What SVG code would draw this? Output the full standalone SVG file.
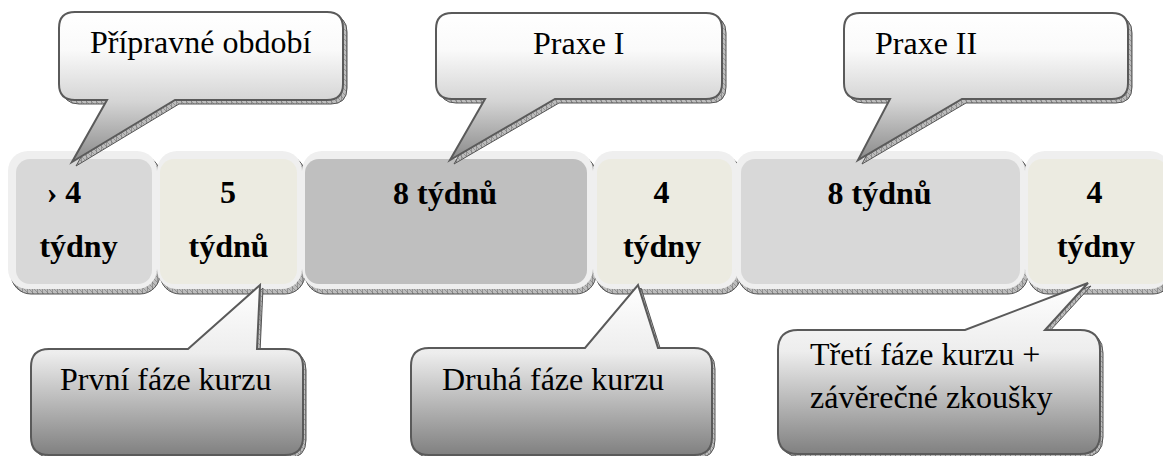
<svg xmlns="http://www.w3.org/2000/svg" width="1163" height="456" viewBox="0 0 1163 456">
<defs>
<style>
.frame{fill:#efefef;}
.shadow{fill:url(#hatch);stroke:#555;stroke-width:1;}
.grey{fill:#d8d8d8;}
.beige{fill:#ecebe1;}
.dark{fill:#bfbfbf;}
.bt{font-family:'Liberation Serif',serif;font-weight:bold;font-size:32px;fill:#000;text-anchor:middle;}
.ct{font-family:'Liberation Serif',serif;font-size:32px;fill:#000;}
.calloutTop{fill:url(#gTop);stroke:#5a5a5a;stroke-width:2;}
.calloutBot{fill:url(#gBot);stroke:#5a5a5a;stroke-width:2;}
</style>
<pattern id="hatch" width="5" height="5" patternUnits="userSpaceOnUse">
<rect width="5" height="5" fill="#bdbdbd"/>
<path d="M0,0 L5,5 M2.5,0 V5" stroke="#777" stroke-width="0.6"/>
</pattern>
<linearGradient id="gTop" x1="0" y1="0" x2="0" y2="1">
<stop offset="0" stop-color="#ffffff"/>
<stop offset="0.25" stop-color="#fafafa"/>
<stop offset="0.6" stop-color="#d4d4d4"/>
<stop offset="1" stop-color="#8a8a8a"/>
</linearGradient>
<linearGradient id="gBot" x1="0" y1="0" x2="0" y2="1">
<stop offset="0" stop-color="#ffffff"/>
<stop offset="0.4" stop-color="#ededed"/>
<stop offset="1" stop-color="#808080"/>
</linearGradient>
</defs>

<g id="box-shadows">
<rect class="shadow" x="11" y="155" width="149" height="139" rx="20"/>
<rect class="shadow" x="160" y="155" width="145" height="139" rx="20"/>
<rect class="shadow" x="305" y="155" width="291" height="139" rx="20"/>
<rect class="shadow" x="596" y="155" width="145" height="139" rx="20"/>
<rect class="shadow" x="738" y="155" width="290" height="139" rx="20"/>
<rect class="shadow" x="1028" y="155" width="145" height="139" rx="20"/>
</g>

<g id="box1">
<rect class="frame" x="8" y="151" width="149" height="138" rx="20"/>
<rect class="grey" x="16" y="159" width="136" height="125" rx="14"/>
<text class="bt" x="64" y="203" font-family="Liberation Serif, serif">› 4</text>
<text class="bt" x="78.5" y="257" font-family="Liberation Serif, serif">týdny</text>
</g>
<g id="box2">
<rect class="frame" x="157" y="151" width="145" height="138" rx="20"/>
<rect class="beige" x="160" y="159" width="137" height="125" rx="14"/>
<text class="bt" x="228" y="203">5</text>
<text class="bt" x="228.5" y="257">týdnů</text>
</g>
<g id="box3">
<rect class="frame" x="302" y="151" width="291" height="138" rx="20"/>
<rect class="dark" x="305" y="159" width="282" height="125" rx="14"/>
<text class="bt" x="445" y="204">8 týdnů</text>
</g>
<g id="box4">
<rect class="frame" x="593" y="151" width="145" height="138" rx="20"/>
<rect class="beige" x="597" y="159" width="135" height="125" rx="14"/>
<text class="bt" x="661.5" y="203">4</text>
<text class="bt" x="662" y="257">týdny</text>
</g>
<g id="box5">
<rect class="frame" x="735" y="151" width="290" height="138" rx="20"/>
<rect class="grey" x="741" y="159" width="279" height="125" rx="14"/>
<text class="bt" x="879.5" y="204">8 týdnů</text>
</g>
<g id="box6">
<rect class="frame" x="1025" y="151" width="145" height="138" rx="20"/>
<rect class="beige" x="1028" y="159" width="140" height="125" rx="14"/>
<text class="bt" x="1094.5" y="203">4</text>
<text class="bt" x="1096" y="257">týdny</text>
</g>

<g id="callout-shadows">
<path class="shadow" transform="translate(4,4)" d="M75,12 H327 Q343,12 343,28 V84 Q343,100 327,100 H175 L72,162 L107,100 H75 Q59,100 59,84 V28 Q59,12 75,12 Z"/>
<path class="shadow" transform="translate(4,4)" d="M452,13 H706 Q722,13 722,29 V83 Q722,99 706,99 H555 L450,160 L485,99 H452 Q436,99 436,83 V29 Q436,13 452,13 Z"/>
<path class="shadow" transform="translate(4,4)" d="M860,13 H1112 Q1128,13 1128,29 V83 Q1128,99 1112,99 H962 L858,160 L890,99 H860 Q844,99 844,83 V29 Q844,13 860,13 Z"/>
<path class="shadow" transform="translate(3,3)" d="M49,349 H188 L260,285 L257,349 H285 Q303,349 303,367 V437 Q303,455 285,455 H49 Q31,455 31,437 V367 Q31,349 49,349 Z"/>
<path class="shadow" transform="translate(3,3)" d="M429,348 H585 L638,285 L658,348 H694 Q712,348 712,366 V437 Q712,455 694,455 H429 Q411,455 411,437 V366 Q411,348 429,348 Z"/>
<path class="shadow" transform="translate(3,3)" d="M798,330 H965 L1088,283 L1045,330 H1080 Q1100,330 1100,350 V434 Q1100,454 1080,454 H798 Q778,454 778,434 V350 Q778,330 798,330 Z"/>
</g>

<g id="callout-pripravne">
<path class="calloutTop" d="M75,12 H327 Q343,12 343,28 V84 Q343,100 327,100 H175 L72,162 L107,100 H75 Q59,100 59,84 V28 Q59,12 75,12 Z"/>
<text class="ct" x="90" y="53">Přípravné období</text>
</g>
<g id="callout-praxe1">
<path class="calloutTop" d="M452,13 H706 Q722,13 722,29 V83 Q722,99 706,99 H555 L450,160 L485,99 H452 Q436,99 436,83 V29 Q436,13 452,13 Z"/>
<text class="ct" x="533" y="54">Praxe I</text>
</g>
<g id="callout-praxe2">
<path class="calloutTop" d="M860,13 H1112 Q1128,13 1128,29 V83 Q1128,99 1112,99 H962 L858,160 L890,99 H860 Q844,99 844,83 V29 Q844,13 860,13 Z"/>
<text class="ct" x="875" y="54">Praxe II</text>
</g>
<g id="callout-prvni">
<path class="calloutBot" d="M49,349 H188 L260,285 L257,349 H285 Q303,349 303,367 V437 Q303,455 285,455 H49 Q31,455 31,437 V367 Q31,349 49,349 Z"/>
<text class="ct" x="60" y="390">První fáze kurzu</text>
</g>
<g id="callout-druha">
<path class="calloutBot" d="M429,348 H585 L638,285 L658,348 H694 Q712,348 712,366 V437 Q712,455 694,455 H429 Q411,455 411,437 V366 Q411,348 429,348 Z"/>
<text class="ct" x="442" y="390">Druhá fáze kurzu</text>
</g>
<g id="callout-treti">
<path class="calloutBot" d="M798,330 H965 L1088,283 L1045,330 H1080 Q1100,330 1100,350 V434 Q1100,454 1080,454 H798 Q778,454 778,434 V350 Q778,330 798,330 Z"/>
<text class="ct" x="810" y="365">Třetí fáze kurzu +</text>
<text class="ct" x="810" y="408">závěrečné zkoušky</text>
</g>
<g id="connectors"/>
</svg>
